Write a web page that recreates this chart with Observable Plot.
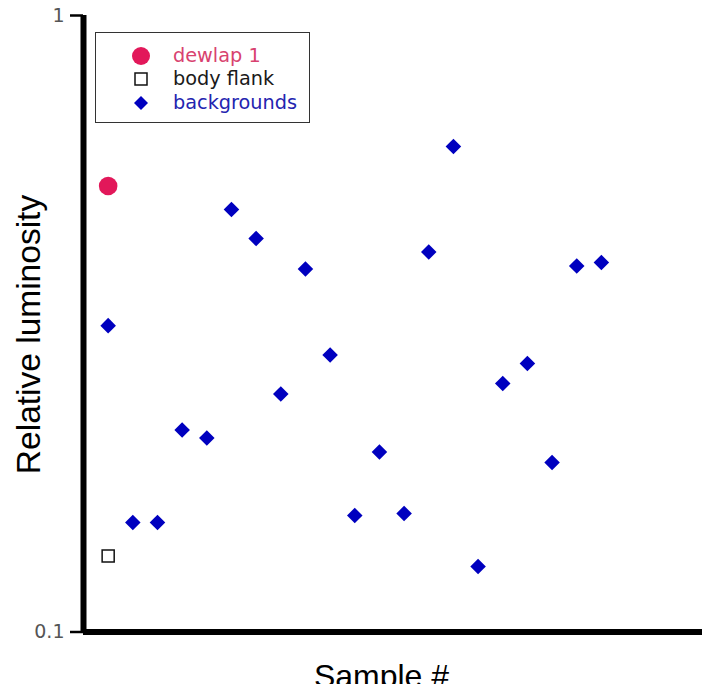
<!DOCTYPE html>
<html>
<head>
<meta charset="utf-8">
<script src="https://cdn.jsdelivr.net/npm/d3@7"></script>
<script src="https://cdn.jsdelivr.net/npm/@observablehq/plot@0.6"></script>
<style>
  html, body { margin: 0; padding: 0; background: white; }
  #wrap { position: relative; width: 714px; height: 694px; }
  #legend {
    position: absolute; left: 95px; top: 32px; width: 213px; height: 89px;
    border: 1.5px solid #333; background: white;
    font-family: "DejaVu Sans", Verdana, sans-serif; font-size: 19.3px;
  }
  .item { position: absolute; left: 0; height: 24px; display: flex; align-items: center; }
  .item svg { position: absolute; left: 34px; }
  .item span { position: absolute; left: 77px; white-space: nowrap; line-height: 24px; }
</style>
</head>
<body>
<div id="wrap"></div>
<script>
// Sample numbers along the x axis
const samples = [1, 2, 3, 4, 5, 6, 7, 8, 9, 10, 11, 12, 13, 14, 15, 16, 17, 18, 19, 20, 21];
// Relative luminosity of each background sample
const backgrounds = [0.314, 0.1505, 0.1505, 0.2127, 0.2064, 0.4844, 0.4348, 0.2433, 0.388, 0.2814,
                     0.1545, 0.1959, 0.1557, 0.4135, 0.6133, 0.1277, 0.253, 0.2725, 0.1883, 0.3924, 0.3976];
// Dewlap and body flank, both measured as sample 1
const dewlapSample = [1];
const dewlapValue = [0.529];
const flankSample = [1];
const flankValue = [0.1328];
// Y axis ticks
const yTicks = [0.1, 1];
const yTickLabels = ["0.1", "1"];

const seriesNames = ["dewlap 1", "body flank", "backgrounds"];
const dewlapColor = "#e2185a";
const bgColor = "#0000bf";

const bgData = samples.map((s, i) => ({sample: s, value: backgrounds[i]}));
const dewlapData = dewlapSample.map((s, i) => ({sample: s, value: dewlapValue[i]}));
const flankData = flankSample.map((s, i) => ({sample: s, value: flankValue[i]}));

const chart = Plot.plot({
  width: 714,
  height: 684,
  marginLeft: 83,
  marginRight: 12,
  marginTop: 15,
  marginBottom: 52.5,
  style: {fontFamily: "'Liberation Sans', Arial, sans-serif", background: "white"},
  x: {domain: [0, 25.1], axis: null},
  y: {type: "log", domain: [0.1, 1], axis: null},
  marks: [
    // y axis: tick marks and their labels
    Plot.axisY(yTicks, {
      anchor: "left",
      tickSize: 13,
      tickPadding: 6,
      strokeWidth: 2.5,
      stroke: "black",
      fontSize: 19,
      fontFamily: "'DejaVu Sans', Verdana, sans-serif",
      fill: "#555",
      tickFormat: (d) => yTickLabels[yTicks.indexOf(d)],
      label: null
    }),
    Plot.ruleY([0.1], {stroke: "black", strokeWidth: 6}),
    Plot.ruleX([0], {stroke: "black", strokeWidth: 6}),
    Plot.dot(bgData, {x: "sample", y: "value", symbol: "diamond2", r: 7, fill: bgColor, stroke: "none"}),
    Plot.dot(flankData, {x: "sample", y: "value", symbol: "square", r: 6.8, fill: "white", stroke: "#111", strokeWidth: 1.5}),
    Plot.dot(dewlapData, {x: "sample", y: "value", symbol: "circle", r: 9.3, fill: dewlapColor, stroke: "none"}),
    Plot.text(["Relative luminosity"], {
      frameAnchor: "left", rotate: -90, lineAnchor: "bottom", textAnchor: "middle",
      dx: -43.5, dy: 10.75, fontSize: 33.5, fill: "black"
    }),
    Plot.text(["Sample #"], {
      frameAnchor: "bottom", lineAnchor: "bottom", textAnchor: "middle",
      dx: -11.5, dy: 54.5, fontSize: 32, fill: "black"
    })
  ]
});

const wrap = document.getElementById("wrap");
wrap.appendChild(chart);

// Legend box drawn over the upper-left corner of the plot area
const legend = document.createElement("div");
legend.id = "legend";
wrap.appendChild(legend);

const legendItems = [
  {name: seriesNames[0], color: "#d8426f", symbol: d3.symbolCircle, size: Math.PI * 9 * 9, fill: dewlapColor, stroke: "none"},
  {name: seriesNames[1], color: "#1a1a1a", symbol: d3.symbolSquare, size: 12 * 12, fill: "white", stroke: "#111"},
  {name: seriesNames[2], color: "#2424b0", symbol: d3.symbolDiamond2, size: Math.pow(7 / 0.62625, 2), fill: bgColor, stroke: "none"}
];
const rowTops = [10.5, 34, 57.5];

legendItems.forEach((it, i) => {
  const row = document.createElement("div");
  row.className = "item";
  row.style.top = rowTops[i] + "px";
  const svg = d3.create("svg").attr("width", 22).attr("height", 24);
  svg.append("path")
    .attr("transform", "translate(11,12)")
    .attr("d", d3.symbol(it.symbol, it.size)())
    .attr("fill", it.fill)
    .attr("stroke", it.stroke)
    .attr("stroke-width", 1.5);
  row.appendChild(svg.node());
  const span = document.createElement("span");
  span.textContent = it.name;
  span.style.color = it.color;
  row.appendChild(span);
  legend.appendChild(row);
});
</script>
</body>
</html>
